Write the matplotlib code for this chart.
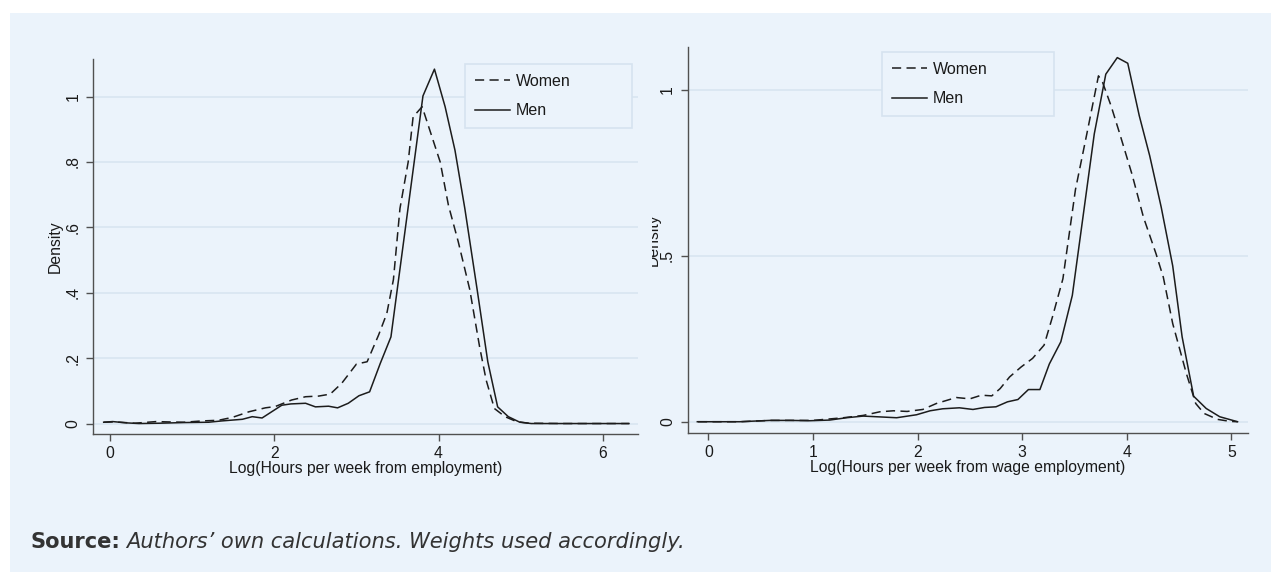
import matplotlib
matplotlib.use("Agg")
import matplotlib.pyplot as plt
from matplotlib.patches import Rectangle
from matplotlib.transforms import Bbox

# left panel: log hours per week from employment
emp_women_x = [-0.08, 0.05, 0.3, 0.56, 0.7, 0.9, 1.12, 1.32, 1.49, 1.69, 1.89, 2.01, 2.21, 2.38,
               2.54, 2.68, 2.82, 3.0, 3.13, 3.27, 3.37, 3.45, 3.53, 3.63, 3.69, 3.80, 4.02, 4.12,
               4.24, 4.38, 4.50, 4.58, 4.68, 4.81, 4.95, 5.1, 5.5, 6.32]
emp_women_y = [0.004, 0.005, 0.001, 0.006, 0.005, 0.004, 0.008, 0.010, 0.019, 0.036, 0.048, 0.052,
               0.072, 0.082, 0.084, 0.090, 0.123, 0.182, 0.189, 0.271, 0.337, 0.44, 0.658, 0.80,
               0.938, 0.969, 0.80, 0.668, 0.556, 0.41, 0.235, 0.133, 0.046, 0.021, 0.006, 0.001,
               0.0, 0.0]
emp_men_x = [-0.08, 0.03, 0.2, 0.35, 0.6, 0.9, 1.2, 1.36, 1.61, 1.73, 1.85, 2.09, 2.2, 2.38, 2.5,
             2.66, 2.77, 2.9, 3.03, 3.16, 3.29, 3.42, 3.81, 3.95, 4.08, 4.2, 4.32, 4.47, 4.6,
             4.72, 4.85, 4.99, 5.13, 6.32]
emp_men_y = [0.004, 0.006, 0.002, 0.0, 0.001, 0.003, 0.004, 0.008, 0.013, 0.021, 0.017, 0.056,
             0.060, 0.062, 0.051, 0.053, 0.048, 0.062, 0.085, 0.097, 0.184, 0.265, 1.002, 1.084,
             0.969, 0.836, 0.658, 0.41, 0.189, 0.051, 0.021, 0.004, 0.0, 0.0]

# right panel: log hours per week from wage employment
wage_women_x = [-0.1, 0.3, 0.6, 0.8, 1.0, 1.29, 1.48, 1.64, 1.77, 1.90, 2.05, 2.18, 2.37, 2.5,
                2.61, 2.71, 2.79, 2.88, 2.99, 3.10, 3.21, 3.29, 3.39, 3.51, 3.62, 3.73, 3.77,
                3.85, 3.93, 4.05, 4.16, 4.28, 4.35, 4.44, 4.57, 4.66, 4.74, 4.87, 4.99, 5.06]
wage_women_y = [0.0, 0.0, 0.004, 0.004, 0.004, 0.012, 0.019, 0.030, 0.033, 0.031, 0.037, 0.055,
                0.073, 0.069, 0.080, 0.078, 0.100, 0.135, 0.165, 0.191, 0.231, 0.316, 0.431,
                0.70, 0.87, 1.043, 1.023, 0.953, 0.872, 0.747, 0.617, 0.507, 0.436, 0.296, 0.146,
                0.055, 0.025, 0.007, 0.001, 0.0]
wage_men_x = [-0.106, 0.3, 0.59, 0.78, 0.97, 1.16, 1.32, 1.48, 1.61, 1.8, 1.99, 2.12, 2.24, 2.4,
              2.53, 2.64, 2.75, 2.86, 2.96, 3.06, 3.17, 3.26, 3.37, 3.48, 3.69, 3.80, 3.91, 4.01,
              4.12, 4.22, 4.33, 4.44, 4.53, 4.64, 4.76, 4.89, 5.06]
wage_men_y = [0.0, 0.0, 0.004, 0.004, 0.003, 0.005, 0.012, 0.017, 0.015, 0.012, 0.021, 0.033,
              0.039, 0.042, 0.037, 0.043, 0.045, 0.060, 0.067, 0.097, 0.097, 0.174, 0.241, 0.381,
              0.868, 1.048, 1.098, 1.081, 0.923, 0.802, 0.647, 0.47, 0.256, 0.077, 0.040, 0.015,
              0.0]

left_yticks = [0, 0.2, 0.4, 0.6, 0.8, 1.0]
left_yticklabels = ["0", ".2", ".4", ".6", ".8", "1"]
left_xticks = [0, 2, 4, 6]
right_yticks = [0, 0.5, 1.0]
right_yticklabels = ["0", ".5", "1"]
right_xticks = [0, 1, 2, 3, 4, 5]

BG = "#ebf3fb"
GRID = "#d8e5f1"
LINE = "#1c1c1c"
W, H = 1271, 572
FS = 11.3

plt.rcParams["font.family"] = ["Liberation Sans", "DejaVu Sans"]

fig = plt.figure(figsize=(W / 100, H / 100), dpi=100)
fig.patch.set_facecolor("white")
# light blue panel behind everything
fig.patches.append(Rectangle((10 / W, 0), 1 - 10 / W, 1 - 13 / H, transform=fig.transFigure,
                             facecolor=BG, edgecolor="none", zorder=-10))


def px_axes(x0, x1, ytop, ybot):
    return fig.add_axes([x0 / W, 1 - ybot / H, (x1 - x0) / W, (ybot - ytop) / H])


def style(ax, yticks, ylabels, xticks, xlabel):
    ax.set_facecolor("none")
    for s in ["top", "right"]:
        ax.spines[s].set_visible(False)
    for s in ["left", "bottom"]:
        ax.spines[s].set_color("#505050")
        ax.spines[s].set_linewidth(1.0)
    ax.set_yticks(yticks)
    ax.set_yticklabels(ylabels, rotation=90, va="center")
    ax.set_xticks(xticks)
    ax.tick_params(axis="both", colors="#505050", labelcolor="#1a1a1a", labelsize=FS,
                   length=5, width=1)
    ax.tick_params(axis="y", pad=4)
    ax.tick_params(axis="x", pad=3.5)
    ax.grid(axis="y", color=GRID, linewidth=1.2)
    ax.set_axisbelow(True)
    ax.set_xlabel(xlabel, fontsize=FS, color="#1a1a1a", labelpad=0)


def add_legend(ax, x0, x1, ytop, ybot):
    leg = ax.legend(loc="upper left", bbox_to_anchor=(x0 / W, 1 - ybot / H, (x1 - x0) / W, (ybot - ytop) / H),
                    bbox_transform=fig.transFigure, mode="expand", borderaxespad=0, fontsize=11.5,
                    handlelength=2.2, handletextpad=0.35, labelspacing=0.9, borderpad=0.62,
                    fancybox=False, framealpha=1)
    leg.get_frame().set_facecolor(BG)
    leg.get_frame().set_edgecolor("#d6e3ef")
    leg.get_frame().set_linewidth(1.2)
    for t in leg.get_texts():
        t.set_color("#1a1a1a")


# left panel
ax1 = px_axes(93, 638, 59, 434)
ax1.plot(emp_women_x, emp_women_y, color=LINE, lw=1.1, ls=(0, (6, 3.5)), label="Women")
ax1.plot(emp_men_x, emp_men_y, color=LINE, lw=1.1, label="Men")
ax1.set_xlim(-0.21, 6.43)
ax1.set_ylim(-0.032, 1.115)
style(ax1, left_yticks, left_yticklabels, left_xticks, "Log(Hours per week from employment)")
ax1.set_ylabel("Density", fontsize=FS, color="#1a1a1a", labelpad=2)
add_legend(ax1, 465, 632, 64, 128)

# right panel
ax2 = px_axes(687.5, 1248, 47, 433)
ax2.plot(wage_women_x, wage_women_y, color=LINE, lw=1.1, ls=(0, (6, 3.5)), label="Women")
ax2.plot(wage_men_x, wage_men_y, color=LINE, lw=1.1, label="Men")
ax2.set_xlim(-0.2, 5.16)
ax2.set_ylim(-0.034, 1.13)
style(ax2, right_yticks, right_yticklabels, right_xticks, "Log(Hours per week from wage employment)")
add_legend(ax2, 882, 1054, 52, 117)

# the right panel's y label is cut off in the original, only a sliver shows
dens = fig.text(653 / W, 1 - 240 / H, "Density", rotation=90, ha="center", va="center",
                fontsize=FS, color="#1a1a1a")
dens.set_clip_box(Bbox.from_extents(652, 0, 700, H))
dens.set_clip_on(True)

# source note
src = fig.text(31 / W, 1 - 542 / H, "Source:", fontsize=15.1, fontweight="bold", color="#333333",
               family=["DejaVu Sans"], va="center")
fig.canvas.draw()
bb = src.get_window_extent()
fig.text(bb.x1 / W + 5 / W, 1 - 542 / H, "Authors\u2019 own calculations. Weights used accordingly.",
         fontsize=15.1, style="italic", color="#333333", family=["DejaVu Sans"], va="center")

fig.savefig("out.png", dpi=100, facecolor="white")
